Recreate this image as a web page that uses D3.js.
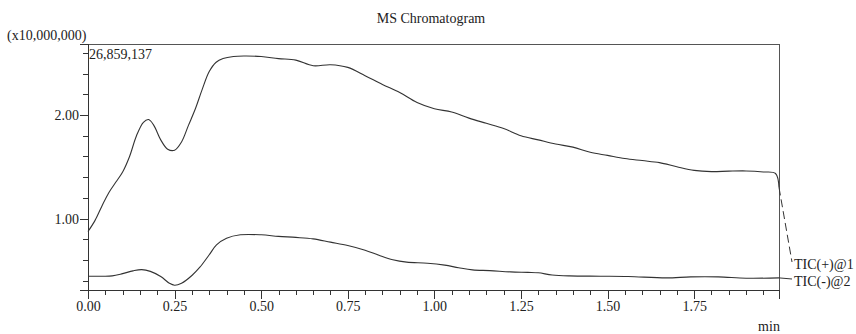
<!DOCTYPE html>
<html>
<head>
<meta charset="utf-8">
<script src="https://cdn.jsdelivr.net/npm/d3@7"></script>
<style>
  html, body { margin: 0; padding: 0; background: #fff; }
  .axis path, .axis line { stroke: #333; shape-rendering: crispEdges; }
</style>
</head>
<body>
<div id="chart"></div>
<script>
// ── Data (retention time in min, intensity in x10,000,000) ───────────────
const TIC_POS_T = [0, 0.02, 0.04, 0.06, 0.08, 0.10, 0.12, 0.14, 0.16, 0.175, 0.19, 0.21, 0.23, 0.25,
  0.27, 0.29, 0.31, 0.33, 0.35, 0.37, 0.39, 0.42, 0.45, 0.50, 0.55, 0.60, 0.65, 0.70, 0.75, 0.80,
  0.85, 0.90, 0.95, 1.00, 1.05, 1.10, 1.15, 1.20, 1.25, 1.30, 1.35, 1.40, 1.45, 1.50, 1.55, 1.60,
  1.65, 1.70, 1.75, 1.80, 1.85, 1.90, 1.95, 1.985, 1.995];
const TIC_POS_V = [0.875, 0.98, 1.12, 1.25, 1.35, 1.45, 1.60, 1.80, 1.93, 1.956, 1.90, 1.76, 1.67, 1.66,
  1.74, 1.90, 2.06, 2.25, 2.42, 2.51, 2.545, 2.565, 2.57, 2.565, 2.545, 2.53, 2.476, 2.486, 2.46, 2.38,
  2.295, 2.217, 2.12, 2.06, 2.03, 1.97, 1.92, 1.87, 1.80, 1.76, 1.72, 1.69, 1.64, 1.61, 1.58, 1.56,
  1.54, 1.50, 1.465, 1.453, 1.458, 1.46, 1.45, 1.435, 1.30];

const TIC_NEG_T = [0, 0.04, 0.07, 0.10, 0.13, 0.155, 0.18, 0.21, 0.235, 0.25, 0.27, 0.30, 0.323, 0.35,
  0.371, 0.40, 0.44, 0.50, 0.55, 0.60, 0.65, 0.70, 0.75, 0.80, 0.84, 0.88, 0.92, 0.98, 1.03, 1.07,
  1.11, 1.16, 1.22, 1.27, 1.30, 1.34, 1.39, 1.48, 1.56, 1.67, 1.74, 1.82, 1.90, 1.995];
const TIC_NEG_V = [0.443, 0.443, 0.446, 0.468, 0.495, 0.507, 0.49, 0.44, 0.375, 0.356, 0.375, 0.45, 0.53, 0.65,
  0.746, 0.81, 0.843, 0.843, 0.828, 0.818, 0.804, 0.772, 0.74, 0.694, 0.645, 0.602, 0.579, 0.569, 0.55, 0.525,
  0.504, 0.497, 0.485, 0.48, 0.476, 0.455, 0.446, 0.443, 0.44, 0.427, 0.437, 0.437, 0.424, 0.427];

const SERIES_LABELS = ['TIC(+)@1', 'TIC(-)@2'];
const X_MAJOR = [0, 0.25, 0.5, 0.75, 1.0, 1.25, 1.5, 1.75];
const Y_MAJOR = [1.0, 2.0];
const X_MAX = 1.995;
const Y_MIN = 0.31, Y_MAX = 2.6859137;
const MAX_LABEL = '26,859,137';

// ── Layout ────────────────────────────────────────────────────────────────
const W = 856, H = 334;
const L = 88, R = 779, T = 44, B = 290;
const FONT = '"Liberation Serif", "Times New Roman", Times, serif';

const svg = d3.select('#chart').append('svg')
  .attr('width', W).attr('height', H)
  .style('display', 'block');

const x = d3.scaleLinear().domain([0, X_MAX]).range([L, R]);
const y = d3.scaleLinear().domain([Y_MIN, Y_MAX]).range([B, T]);

// minor ticks every 0.05 min / 0.2 units
const xMinor = d3.range(1, 40).map(i => +(i * 0.05).toFixed(2))
  .filter(v => v <= X_MAX && !X_MAJOR.some(m => Math.abs(m - v) < 1e-6));
const yMinor = d3.range(2, 14).map(i => +(i * 0.2).toFixed(1))
  .filter(v => !Y_MAJOR.some(m => Math.abs(m - v) < 1e-6));

// frame
svg.append('rect')
  .attr('x', L).attr('y', T).attr('width', R - L).attr('height', B - T)
  .attr('fill', 'none').attr('stroke', '#555').attr('shape-rendering', 'crispEdges');

const styleAxis = g => g
  .attr('font-family', FONT).attr('font-size', 14)
  .call(g => g.selectAll('text').attr('fill', '#222'));

// x axis
svg.append('g').attr('class', 'axis').attr('transform', `translate(0,${B})`)
  .call(d3.axisBottom(x).tickValues(xMinor).tickSize(5).tickFormat(''))
  .call(g => g.select('.domain').remove());
svg.append('g').attr('class', 'axis').attr('transform', `translate(0,${B})`)
  .call(d3.axisBottom(x).tickValues(X_MAJOR).tickSize(9).tickPadding(2).tickFormat(d3.format('.2f')))
  .call(styleAxis)
  .call(g => g.select('.domain').attr('stroke', '#222'));

// y axis
svg.append('g').attr('class', 'axis').attr('transform', `translate(${L},0)`)
  .call(d3.axisLeft(y).tickValues(yMinor).tickSize(5).tickFormat(''))
  .call(g => g.select('.domain').remove());
svg.append('g').attr('class', 'axis').attr('transform', `translate(${L},0)`)
  .call(d3.axisLeft(y).tickValues(Y_MAJOR).tickSize(8).tickPadding(1).tickFormat(d3.format('.2f')))
  .call(styleAxis)
  .call(g => g.select('.domain').attr('stroke', '#222'));

// ── Curves ────────────────────────────────────────────────────────────────
const line = d3.line()
  .x(d => x(d[0])).y(d => y(d[1]))
  .curve(d3.curveCatmullRom.alpha(0.5));

const pos = TIC_POS_T.map((t, i) => [t, TIC_POS_V[i]]);
const neg = TIC_NEG_T.map((t, i) => [t, TIC_NEG_V[i]]);

[pos, neg].forEach(data => {
  svg.append('path').datum(data)
    .attr('fill', 'none').attr('stroke', '#333').attr('stroke-width', 1.1)
    .attr('d', line);
});

// leader lines to series labels
const labelX = 793;
const posEnd = pos[pos.length - 1], negEnd = neg[neg.length - 1];
svg.append('line')
  .attr('x1', x(posEnd[0])).attr('y1', y(posEnd[1]))
  .attr('x2', labelX - 1).attr('y2', 262)
  .attr('stroke', '#333').attr('stroke-dasharray', '8,4');
svg.append('line')
  .attr('x1', x(negEnd[0])).attr('y1', y(negEnd[1]))
  .attr('x2', labelX - 1).attr('y2', 279)
  .attr('stroke', '#333');

const txt = (s, px, py, anchor = 'start') => svg.append('text')
  .attr('x', px).attr('y', py).attr('text-anchor', anchor)
  .attr('font-family', FONT)
  .attr('font-size', 14).attr('fill', '#222').text(s);

txt(SERIES_LABELS[0], labelX + 1, 269);
txt(SERIES_LABELS[1], labelX + 1, 286);

// titles and annotations
txt('MS Chromatogram', 431, 23, 'middle');
txt('(x10,000,000)', 7, 40);
txt(MAX_LABEL, 89, 59);
txt('min', 769, 331, 'middle');
</script>
</body>
</html>
